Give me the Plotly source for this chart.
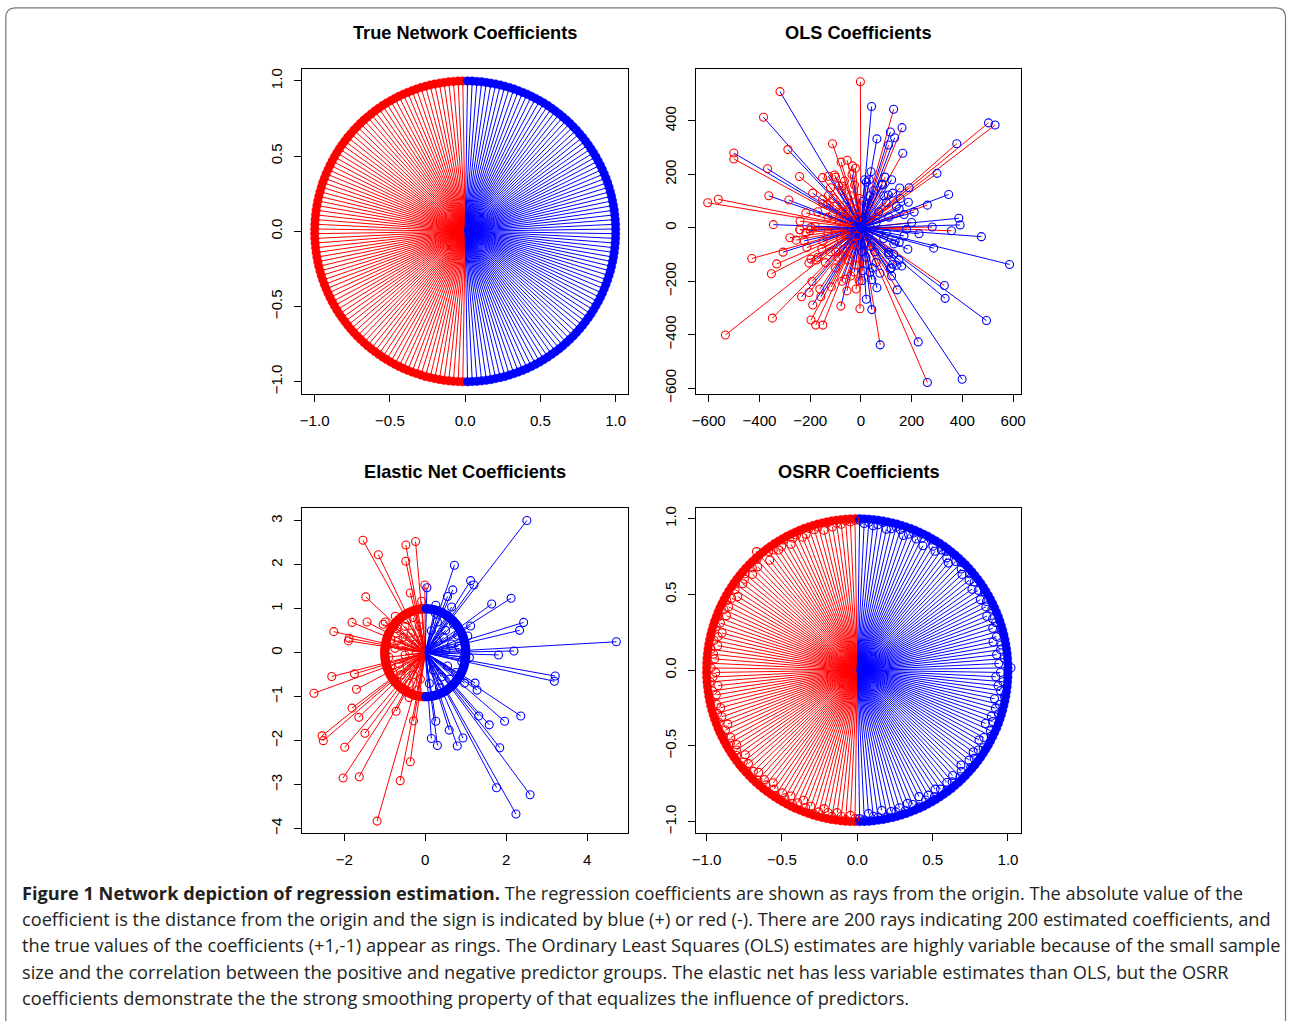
import math
import plotly.graph_objects as go

RED = "#FF0000"
BLUE = "#0000FF"
W, H = 1290, 1021

# ---------------- data ----------------
# True network: 100 positive (+1) and 100 negative (-1) coefficients
true_pos = [1.0] * 100
true_neg = [-1.0] * 100

# OSRR estimates, positive group then negative group
osrr_pos = [0.99, 0.97, 0.98, 0.96, 0.97, 0.99, 0.95, 0.96, 0.98, 0.97,
            0.94, 0.96, 0.98, 0.95, 0.97, 0.93, 0.99, 0.96, 0.94, 0.97,
            0.98, 0.95, 0.93, 0.97, 0.99, 0.96, 0.94, 0.98, 0.95, 0.97,
            0.93, 0.96, 0.99, 0.94, 0.97, 0.95, 0.98, 0.93, 0.96, 0.97,
            0.94, 0.99, 0.95, 0.92, 0.97, 0.96, 0.93, 0.98, 0.94, 1.02,
            0.95, 0.92, 0.97, 0.94, 0.96, 0.99, 0.93, 0.97, 0.95, 0.98,
            0.94, 0.96, 0.92, 0.97, 0.99, 0.95, 0.93, 0.98, 0.96, 0.94,
            0.97, 0.95, 0.99, 0.93, 0.96, 0.98, 0.94, 0.97, 0.95, 0.99,
            0.96, 0.94, 0.98, 0.95, 0.97, 0.93, 0.99, 0.96, 0.94, 0.98,
            0.95, 0.97, 0.96, 0.99, 0.94, 0.98, 0.97, 0.95, 0.99, 0.98]
osrr_neg = [-0.98, -0.96, -0.99, -0.97, -0.95, -0.98, -0.96, -0.94, -0.97, -0.99,
            -0.95, -0.97, -0.93, -0.96, -0.98, -0.94, -0.97, -0.95, -0.99, -0.96,
            -0.93, -0.97, -0.95, -0.98, -0.94, -0.96, -0.99, -0.95, -0.97, -0.93,
            -0.98, -0.96, -0.94, -0.97, -0.95, -0.99, -0.96, -0.93, -0.98, -0.95,
            -0.97, -0.94, -0.96, -0.99, -0.95, -0.97, -0.93, -0.98, -0.96, -0.94,
            -0.97, -0.99, -0.95, -0.96, -0.98, -0.94, -0.97, -0.95, -0.93, -0.98,
            -0.96, -0.99, -0.94, -0.97, -0.95, -0.98, -0.96, -0.93, -0.97, -0.99,
            -0.95, -0.96, -0.98, -0.94, -0.97, -0.95, -0.99, -1.03, -0.93, -0.98,
            -0.97, -0.95, -0.96, -0.99, -0.94, -0.97, -0.98, -0.95, -0.96, -0.99,
            -0.97, -0.98, -0.95, -0.99, -0.96, -0.98, -0.97, -0.99, -0.98, -0.99]

# OLS estimates: ray end (x, y) and true group of each predictor (+1 blue, -1 red)
ols_x = [-2, -319, -384, -501, -501, -288, -112, -368, -242, -604, -562, -363, -284, -217, -345, -240,
         -240, -197, -78, -54, -33, -22, -151, -128, -104, -88, -75, -151, -128, -134, -112, -72,
         42, 129, 162, 116, 133, 109, 63, 165, 503, 529, 378, 300, 346, 262, 187, 210, 153, 121,
         22, 33, 82, 108, 151, 386, 391, 281, 357,
         475, 586, 287, 229, 329, 332, 495, 226, 76, 262, 399, -4, 43, 21, 63, 143, 43, 4, 36, 121,
         116, 161, 125, 135, 151, 109, 129,
         -430, -307, -332, -353, -534, -349, -234, -204, -190, -158, -197, -178, -150, -162, -193,
         -117, -79, -55, -19, -59, -26, -7, 7, -280, -255, -224, -213, -154, -197, -175, -205, -241,
         -217, -99, -72,
         -40, -95, -60, -130, -20, -75, -110, -45, -150, -25, -85, -170, -10, -55, -120, -35, -65,
         30, 70, 110, 50, 20, 90, 140, 15, 60, 125, 170, 40, 85, 100, 35, 155, 10,
         -30, -80, -120, -50, -150, -20, -100, -70, -130, -40, -170, -90, -15, -60,
         40, 90, 20, 130, 60, 110, 30, 150, 75, 170, 45, 100, 15, 120, 55, 185,
         -180, 180, 5, -5, -60, 200, -200, 8, -140, 140, -100, 95, -190, 190, -75]
ols_y = [547, 510, 414, 280, 258, 293, 315, 221, 192, 94, 107, 120, 104, 56, 12, 25,
         -7, 1, 246, 253, 232, 223, 188, 193, 198, 158, 156, 106, 121, 86, 49, 59,
         454, 444, 375, 359, 337, 310, 333, 279, 393, 385, 315, 204, 125, 85, 96, 59, 149, 180,
         171, 180, 163, 123, 71, 36, 11, 3, -11,
         -33, -137, -76, -22, -216, -264, -347, -427, -438, -579, -567, -303, -306, -267, -224,
         -232, -194, -198, -166, -180, -152, -143, -136, -49, -55, -92, -98,
         -115, -91, -135, -172, -401, -338, -258, -242, -289, -258, -345, -364, -364, -229, -201,
         -221, -293, -236, -229, -192, -165, -198, -161, -37, -46, -49, -74, -79, -117, -120, -132,
         -7, -18, -90, -105,
         120, 85, 60, 40, 70, 140, 110, 30, 90, 160, 25, 60, 40, 95, 150, 200, 175,
         90, 60, 40, 140, 40, 120, 80, 180, 20, 130, 50, 210, 160, 95, 120, 110, 100,
         -60, -40, -90, -120, -50, -140, -150, -80, -20, -180, -110, -110, -30, -30,
         -70, -40, -110, -60, -130, -100, -30, -120, -170, -30, -150, -20, -60, -150, -90, -80,
         5, -5, -90, 110, -5, 20, -10, 30, -130, -140, 190, 190, 130, 150, -200]
ols_grp = [-1, 1, 1, 1, -1, 1, -1, 1, -1, -1, -1, 1, 1, -1, 1, -1,
           -1, -1, -1, -1, -1, -1, -1, 1, -1, 1, -1, 1, -1, 1, -1, 1,
           1, -1, -1, 1, 1, -1, 1, -1, -1, -1, -1, -1, 1, -1, 1, 1, -1, 1,
           1, -1, 1, -1, 1, 1, 1, -1, -1,
           1, 1, 1, 1, -1, 1, 1, -1, -1, -1, 1, -1, 1, 1, 1, -1, 1, -1, 1, 1,
           -1, 1, 1, -1, 1, 1, -1,
           -1, 1, -1, -1, -1, -1, 1, -1, 1, 1, -1, -1, -1, -1, -1,
           -1, 1, -1, -1, -1, 1, 1, -1, -1, -1, 1, -1, -1, -1, -1, 1, -1,
           -1, 1, -1,
           1, -1, 1, -1, 1, -1, 1, -1, 1, -1, -1, 1, -1, 1, -1, 1, -1,
           -1, 1, -1, 1, -1, 1, -1, 1, -1, 1, 1, -1, 1, -1, 1, -1, 1,
           1, -1, 1, -1, 1, -1, -1, 1, -1, 1, -1, 1, -1, 1,
           -1, 1, -1, 1, -1, 1, -1, 1, -1, 1, -1, 1, -1, 1, -1, 1,
           1, -1, 1, -1, 1, -1, 1, -1, 1, -1, 1, -1, 1, -1, 1]

# Elastic net estimates: ray end (x, y)
en_x = [-1.54, -1.16, -0.48, -0.24, -0.48, -0.01, 0.04, -0.37, -0.09, -1.47, -1.81, -1.44, -1.04,
        -0.99, -0.74, -2.26, -1.88, -1.90, -0.67,
        2.51, 0.72, 1.12, 1.20, 0.68, 0.55, 0.65, 1.64, 2.12, 2.43, 2.33, 1.12, 1.05, 0.50, 4.72,
        2.19, 1.81, 0.82, 0.26,
        1.09, 3.21, 3.19, 0.97, 1.23, 1.28, 2.36, 1.96, 1.58, 1.32, 1.84, 0.93, 0.79, 0.59, 0.26,
        0.15, 0.30, 1.76, 2.59, 2.24,
        -2.31, -1.75, -2.75, -1.70, -1.81, -1.64, -0.72, -0.29, -2.55, -2.52, -1.49, -1.99, -0.37,
        -1.63, -2.03, -0.62, -1.19, -0.40,
        -0.85, -0.70, -0.90, -0.60, -0.80, -0.45, -0.30, -0.75, -0.55, -0.40, -0.65, -0.20, -0.50,
        -0.85, -0.35, -0.25, -0.60, -0.15, -0.45, -0.70, -0.30, -0.10, -0.55, -0.95, -0.20, -0.40,
        -0.12, -0.78, -0.50, -0.30,
        0.80, 0.60, 0.30, 0.90, 0.45, 0.70, 0.20, 0.55, 0.85, 0.35, 0.15, 0.65, 0.40, 0.75, 0.25,
        0.50, 0.10, 0.30, 0.60, 0.95]
en_y = [2.56, 2.23, 2.45, 2.53, 2.08, 1.54, 1.48, 1.36, 1.17, 1.27, 0.69, 0.70, 0.65,
        0.70, 0.83, 0.48, 0.33, 0.27, 0.28,
        3.01, 1.99, 1.64, 1.54, 1.43, 1.28, 1.04, 1.11, 1.24, 0.69, 0.51, 0.61, 0.38, 0.51, 0.25,
        0.04, -0.05, 0.15, 1.08,
        -0.11, -0.53, -0.65, -0.69, -0.69, -0.85, -1.44, -1.56, -1.64, -1.44, -2.16, -1.94, -2.12,
        -1.76, -1.56, -1.95, -2.11, -3.07, -3.23, -3.67,
        -0.54, -0.48, -0.92, -0.83, -1.26, -1.47, -1.33, -1.55, -1.89, -2.00, -1.83, -2.15, -2.48,
        -2.82, -2.85, -2.91, -3.83, -1.02,
        0.30, 0.55, -0.10, -0.50, -0.45, 0.75, 0.80, 0.10, 0.35, -0.70, -0.25, -0.85, 0.60,
        -0.30, 0.45, 0.20, 0.15, 0.60, -0.30, -0.65, -0.50, 0.30, -0.80, 0.15, -0.25, 0.05,
        -0.60, 0.60, -0.05, 0.95,
        0.40, -0.60, 0.70, -0.20, 0.35, 0.65, -0.40, -0.30, 0.10, -0.80, 0.50, 0.20, -0.55, -0.45,
        0.90, 0.05, -0.70, 0.25, 0.80, -0.10]

# tick labels
unit_ticks = [-1.0, -0.5, 0.0, 0.5, 1.0]
unit_labels = ["\u22121.0", "\u22120.5", "0.0", "0.5", "1.0"]
ols_xticks = [-600, -400, -200, 0, 200, 400, 600]
ols_xlabels = ["\u2212600", "\u2212400", "\u2212200", "0", "200", "400", "600"]
ols_yticks = [-600, -400, -200, 0, 200, 400]
ols_ylabels = ["\u2212600", "\u2212400", "\u2212200", "0", "200", "400"]
en_xticks = [-2, 0, 2, 4]
en_xlabels = ["\u22122", "0", "2", "4"]
en_yticks = [-4, -3, -2, -1, 0, 1, 2, 3]
en_ylabels = ["\u22124", "\u22123", "\u22122", "\u22121", "0", "1", "2", "3"]

titles = ["True Network Coefficients", "OLS Coefficients",
          "Elastic Net Coefficients", "OSRR Coefficients"]

caption_lines = [
    "<b>Figure 1 Network depiction of regression estimation.</b> The regression coefficients are shown as rays from the origin. The absolute value of the",
    "coefficient is the distance from the origin and the sign is indicated by blue (+) or red (-). There are 200 rays indicating 200 estimated coefficients, and",
    "the true values of the coefficients (+1,-1) appear as rings. The Ordinary Least Squares (OLS) estimates are highly variable because of the small sample",
    "size and the correlation between the positive and negative predictor groups. The elastic net has less variable estimates than OLS, but the OSRR",
    "coefficients demonstrate the the strong smoothing property of that equalizes the influence of predictors.",
]

# ---------------- helpers ----------------
# predictor directions: the 100 predictors of each group spread over a half circle
n_grp = len(true_pos)
directions = [math.radians(90 - 180 * (k + 0.5) / n_grp) for k in range(n_grp)]


def polar_points(coefs):
    xs = [c * math.cos(a) for c, a in zip(coefs, directions)]
    ys = [c * math.sin(a) for c, a in zip(coefs, directions)]
    return xs, ys


fig = go.Figure()
MS = 8


def add_rays(xs, ys, grp, ax, order=(-1, 1)):
    xa, ya = "x" + ax, "y" + ax
    for g in order:
        col = BLUE if g > 0 else RED
        lx, ly = [], []
        for x, y, gg in zip(xs, ys, grp):
            if gg == g:
                lx += [0, x, None]
                ly += [0, y, None]
        fig.add_trace(go.Scatter(x=lx, y=ly, mode="lines", xaxis=xa, yaxis=ya,
                                 line=dict(color=col, width=1), hoverinfo="skip",
                                 showlegend=False))


def add_circles(xs, ys, cols, ax):
    fig.add_trace(go.Scatter(x=xs, y=ys, mode="markers", xaxis="x" + ax, yaxis="y" + ax,
                             marker=dict(symbol="circle-open", size=MS, color=cols,
                                         line=dict(width=1.1)),
                             hoverinfo="skip", showlegend=False))


def add_ring(ax):
    # true values (+1 / -1) drawn as dense rings
    for coefs, col in [(true_neg, RED), (true_pos, BLUE)]:
        xs, ys = polar_points(coefs)
        fig.add_trace(go.Scatter(x=xs, y=ys, mode="markers", xaxis="x" + ax, yaxis="y" + ax,
                                 marker=dict(symbol="circle", size=8.5, color=col,
                                             line=dict(width=0.5, color=col)),
                                 hoverinfo="skip", showlegend=False))


# Panel 1: true network
tp_x, tp_y = polar_points(true_pos)
tn_x, tn_y = polar_points(true_neg)
add_rays(tn_x + tp_x, tn_y + tp_y, [-1] * n_grp + [1] * n_grp, "")
add_ring("")

# Panel 2: OLS
add_rays(ols_x, ols_y, ols_grp, "2")
add_circles(ols_x, ols_y, [BLUE if x > 0 else RED for x in ols_x], "2")
add_ring("2")

# Panel 3: elastic net
en_grp = [1 if x > 0 else -1 for x in en_x]
add_rays(en_x, en_y, en_grp, "3")
add_circles(en_x, en_y, [BLUE if x > 0 else RED for x in en_x], "3")
add_ring("3")

# Panel 4: OSRR
op_x, op_y = polar_points(osrr_pos)
on_x, on_y = polar_points(osrr_neg)
add_rays(on_x + op_x, on_y + op_y, [-1] * n_grp + [1] * n_grp, "4")
add_ring("4")
add_circles(on_x + op_x, on_y + op_y, [RED] * n_grp + [BLUE] * n_grp, "4")

# ---------------- layout ----------------
# page-pixel -> paper mapping (small correction for the capture scale)
SX, OX = 0.9924, 5.2
SY, OY = 0.9897, 1.07


def px(x):
    return (x - OX) / SX / W


def py(y):
    return 1 - (y - OY) / SY / H


TICKFONT = dict(family="Liberation Sans, Arial, sans-serif", size=15.1, color="black")


def axis(rng, tv, tt, dom, anchor, is_y):
    d = dict(range=rng, domain=dom, anchor=anchor, tickmode="array", tickvals=tv, ticktext=tt,
             showline=True, mirror=True, linecolor="black", linewidth=1,
             ticks="outside", ticklen=7, tickwidth=1, tickcolor="black",
             showgrid=False, zeroline=False, tickfont=TICKFONT, ticklabelstandoff=6)
    if is_y:
        d["tickangle"] = -90
    return d


L1, L2 = 303, 628
R1, R2 = 696, 1021
T1, T2 = 68, 393
B1, B2 = 507, 832

fig.update_layout(
    width=W, height=H, margin=dict(l=0, r=0, t=0, b=0),
    paper_bgcolor="white", plot_bgcolor="white", showlegend=False,
    xaxis=axis([-1.083, 1.08], unit_ticks, unit_labels, [px(L1), px(L2)], "y", False),
    yaxis=axis([-1.08, 1.08], unit_ticks, unit_labels, [py(T2), py(T1)], "x", True),
    xaxis2=axis([-651, 632], ols_xticks, ols_xlabels, [px(R1), px(R2)], "y2", False),
    yaxis2=axis([-621, 595], ols_yticks, ols_ylabels, [py(T2), py(T1)], "x2", True),
    xaxis3=axis([-3.04, 5.0], en_xticks, en_xlabels, [px(L1), px(L2)], "y3", False),
    yaxis3=axis([-4.09, 3.30], en_yticks, en_ylabels, [py(B2), py(B1)], "x3", True),
    xaxis4=axis([-1.072, 1.088], unit_ticks, unit_labels, [px(R1), px(R2)], "y4", False),
    yaxis4=axis([-1.072, 1.073], unit_ticks, unit_labels, [py(B2), py(B1)], "x4", True),
)

annotations = []
title_pos = [((L1 + L2) / 2, 32), ((R1 + R2) / 2, 32), ((L1 + L2) / 2, 471), ((R1 + R2) / 2, 471)]
for t, (cx, cy) in zip(titles, title_pos):
    annotations.append(dict(text="<b>%s</b>" % t, x=px(cx), y=py(cy), xref="paper", yref="paper",
                            xanchor="center", yanchor="middle", showarrow=False,
                            font=dict(family="Liberation Sans, Arial, sans-serif", size=18.2,
                                      color="black")))
cap_y = [892, 918.5, 945, 971.5, 998]
for line, cy in zip(caption_lines, cap_y):
    annotations.append(dict(text=line, x=16 / W, y=py(cy), xref="paper", yref="paper",
                            xanchor="left", yanchor="middle", showarrow=False,
                            font=dict(family="Open Sans, sans-serif", size=18.2, color="#231f20")))
fig.update_layout(annotations=annotations)

# outer frame with rounded top corners
x0, x1 = px(7), 1289.5 / W
ytop, ybot = py(7), -10 / H
rx, ry = 10 / W, 10 / H
path = (f"M {x0},{ybot} L {x0},{ytop - ry} Q {x0},{ytop} {x0 + rx},{ytop} "
        f"L {x1 - rx},{ytop} Q {x1},{ytop} {x1},{ytop - ry} L {x1},{ybot}")
fig.add_shape(type="path", path=path, xref="paper", yref="paper",
              line=dict(color="#777777", width=1.2))

fig.write_html("out.html", config={"displayModeBar": False},
               post_script=("document.documentElement.style.margin='0';"
                            "document.documentElement.style.overflow='hidden';"
                            "document.body.style.margin='0';"
                            "document.body.style.overflow='hidden';"))
